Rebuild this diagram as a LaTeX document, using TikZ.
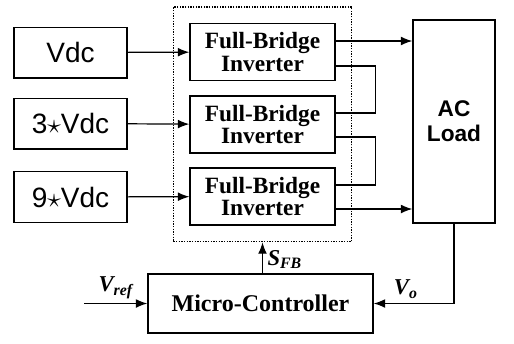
\documentclass[tikz,border=0pt]{standalone}
\usepackage{fontspec}
\setmainfont{Liberation Serif}
\setsansfont{Liberation Sans}
\usetikzlibrary{positioning,arrows.meta,calc,fit}

\begin{document}
\begin{tikzpicture}[x=0.75pt,y=-0.75pt,
  src/.style={draw,line width=1pt,minimum width=84.75pt,minimum height=38pt,
              font=\sffamily\fontsize{21}{23}\selectfont},
  fb/.style={draw,line width=1pt,minimum width=108.75pt,minimum height=42.75pt,inner sep=1pt,
             align=center,font=\bfseries\fontsize{17.5}{17}\selectfont},
  lbl/.style={font=\bfseries\itshape\fontsize{17}{18}\selectfont},
  a/.style={-{Latex[length=3mm,width=2.3mm]},line width=0.9pt}]
\useasboundingbox (0,0) rectangle (514,343);
% sources
\node[src] (v1) at (70.5,52.5) {Vdc};
\node[src] (v3) at (70.5,123.5) {3$\star$Vdc};
\node[src] (v9) at (70.5,197) {9$\star$Vdc};
% inverters
\node[fb] (inv1) at (262.5,52) {Full-Bridge\\Inverter};
\node[fb] (inv2) at (262.5,124.5) {Full-Bridge\\Inverter};
\node[fb] (inv3) at (262.5,196.5) {Full-Bridge\\Inverter};
\node[draw,densely dotted,line width=1pt,inner sep=12pt,fit=(inv1)(inv3)] (inv) {};
\node[draw,line width=1pt,minimum width=61.5pt,minimum height=152.25pt,align=center,
      font=\sffamily\bfseries\fontsize{17}{19}\selectfont] (load) at (454,121.5) {AC\\Load};
\node[draw,line width=1pt,minimum width=168.75pt,minimum height=44.25pt,
      font=\bfseries\fontsize{18}{20}\selectfont] (ctrl) at (260.5,303.5) {Micro-Controller};
\draw[a] (v1) -- (inv1);
\draw[a] (v3) -- (inv2);
\draw[a] (v9) -- (inv3);
% series links
\coordinate (o1) at ($(inv1.east)+(0,-11)$);
\coordinate (s1) at ($(inv1.east)+(0,14)$);
\coordinate (s2) at ($(inv2.east)+(0,-11.5)$);
\coordinate (s3) at ($(inv2.east)+(0,12.5)$);
\coordinate (s4) at ($(inv3.east)+(0,-11.5)$);
\coordinate (o3) at ($(inv3.east)+(0,12.5)$);
\draw[line width=0.9pt] (s1) -- ++(40,0) |- (s2);
\draw[line width=0.9pt] (s3) -- ++(40,0) |- (s4);
\draw[a] (o1) -- (o1 -| load.west);
\draw[a] (o3) -- (o3 -| load.west);
% control
\draw[a] (ctrl.north -| inv.south) -- node[lbl,right,pos=0.45]{S\textsubscript{FB}} (inv.south);
\draw[a] (load.south) |- node[lbl,above,pos=0.8]{V\textsubscript{o}} (ctrl.east);
\coordinate (vref) at (84,303.5);
\draw[a] (vref) -- node[lbl,above]{V\textsubscript{ref}} (ctrl.west);
\end{tikzpicture}
\end{document}
